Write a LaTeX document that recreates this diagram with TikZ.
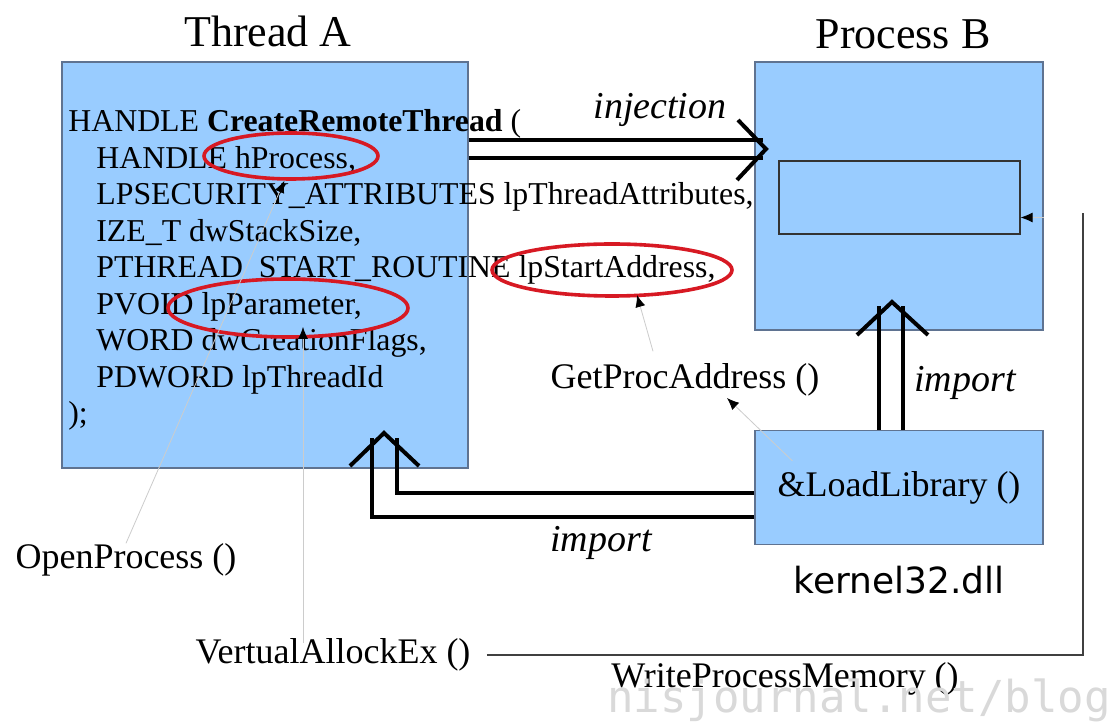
\documentclass[tikz,border=0pt]{standalone}
\usepackage{fontspec}
\setmainfont{Liberation Serif}
\newfontfamily\dvsans{DejaVu Sans}
\newfontfamily\wmfont{DejaVu Sans Mono}
\usetikzlibrary{shapes.geometric,arrows.meta}
\definecolor{boxblue}{RGB}{153,204,255}
\definecolor{boxline}{RGB}{95,115,145}
\definecolor{ringred}{RGB}{215,25,35}
\begin{document}
\begin{tikzpicture}[x=0.5pt,y=-0.5pt,
  box/.style={draw=boxline, line width=0.6pt, fill=boxblue, inner sep=0pt},
  code/.style={anchor=base west, inner sep=0pt, font=\fontsize{15.9}{18}\selectfont},
  title/.style={inner sep=0pt, font=\fontsize{22}{26}\selectfont},
  call/.style={inner sep=0pt, font=\fontsize{18}{21}\selectfont},
  verb/.style={inner sep=0pt, font=\fontsize{19}{22}\selectfont\itshape},
  ring/.style={draw=ringred, line width=1.8pt, ellipse, inner sep=0pt},
  fat/.style={line width=2pt, black},
  chev/.style={line width=2pt, black, line join=miter},
  thin/.style={draw=gray!40, line width=0.4pt},
  route/.style={draw=black!75, line width=0.6pt},
  tip/.style={-{Latex[length=6pt,width=5pt,color=black]}}
]
% canvas
\fill[white] (0,0) rectangle (1115,726);
\useasboundingbox (0,0) rectangle (1115,726);

% titles
\node[title] (tA) at (268,31) {Thread A};
\node[title] (tB) at (903,34) {Process B};

% boxes
\node[box, minimum width=203pt, minimum height=203pt] (A) at (265,265) {};
\node[box, minimum width=144pt, minimum height=134pt] (B) at (899,196) {};
\node[box, draw=black!80, minimum width=120.5pt, minimum height=36.5pt] (mem) at (899.5,197.5) {};
\node[box, minimum width=144pt, minimum height=57pt, font=\fontsize{18}{21}\selectfont] (K) at (899,487.5) {\&LoadLibrary ()};
\node[inner sep=0pt, font=\dvsans\fontsize{18}{21}\selectfont] (kdll) at (899,580) {kernel32.dll};

% prototype listing
\node[code] (c1) at (68,132) {HANDLE \textbf{CreateRemoteThread} (};
\node[code] (c2) at (96,168.5) {HANDLE hProcess,};
\node[code] (c3) at (96,205) {LPSECURITY\_ATTRIBUTES lpThreadAttributes,};
\node[code] (c4) at (96,241.5) {IZE\_T dwStackSize,};
\node[code] (c5) at (96,278) {PTHREAD\_START\_ROUTINE lpStartAddress,};
\node[code] (c6) at (96,314.5) {PVOID lpParameter,};
\node[code] (c7) at (96,351) {WORD dwCreationFlags,};
\node[code] (c8) at (96,387.5) {PDWORD lpThreadId};
\node[code] (c9) at (68,424) {);};

% highlighted parameters
\node[ring, minimum width=87pt, minimum height=23pt] (e1) at (291,156) {};
\node[ring, minimum width=120pt, minimum height=26pt] (e2) at (612,270) {};
\node[ring, minimum width=120pt, minimum height=29pt] (e3) at (288,308) {};

% API calls
\node[call] (gp) at (685,380) {GetProcAddress ()};
\node[call] (op) at (126,560) {OpenProcess ()};
\node[call] (va) at (333,655) {VertualAllockEx ()};
\node[call] (wp) at (785,679) {WriteProcessMemory ()};

% verbs
\node[verb] (vinj) at (660,110) {injection};
\node[verb] (vimp1) at (965,383) {import};
\node[verb] (vimp2) at (601,543) {import};

% injection: Thread A -> Process B
\draw[fat] (A.east) ++(0,-125) -- ++(294,0);
\draw[fat] (A.east) ++(0,-107) -- ++(294,0);
\draw[chev] (738,120) -- (766,149) -- (737,180);

% import: kernel32.dll -> Process B
\draw[fat] (K.north) ++(-20,0) -- ++(0,-124);
\draw[fat] (K.north) ++(4,0) -- ++(0,-124);
\draw[chev] (857,335) -- (892,302) -- (928,335);

% import: kernel32.dll -> Thread A
\draw[fat] (K.west) ++(0,5.5) -- (397,493) -- (397,438);
\draw[fat] (K.west) ++(0,29.5) -- (372,517) -- (372,438);
\draw[chev] (350,466) -- (384,433) -- (419,466);

% call links
\draw[thin, tip] (op.north) -- (e1.255);
\coordinate (vaup) at (303,643);
\draw[thin, tip] (vaup) -- (303,327);
\draw[thin, tip] (gp.north) ++(-32,-12) -- (637,295);
\draw[thin, tip] (K.north west) ++(38,31) -- (727,398);
\draw[route] ([xshift=8pt]va.east) -- (1083,655) -- (1083,213);
\draw[thin, tip] ([yshift=-10pt]mem.east) ++(23,0) -- ([yshift=-10pt]mem.east);

% site mark
\node[anchor=base west, inner sep=0pt, text=gray!30, font=\wmfont\fontsize{22}{24}\selectfont] (wm) at (607,713) {nisjournal.net/blog};
\end{tikzpicture}
\end{document}
